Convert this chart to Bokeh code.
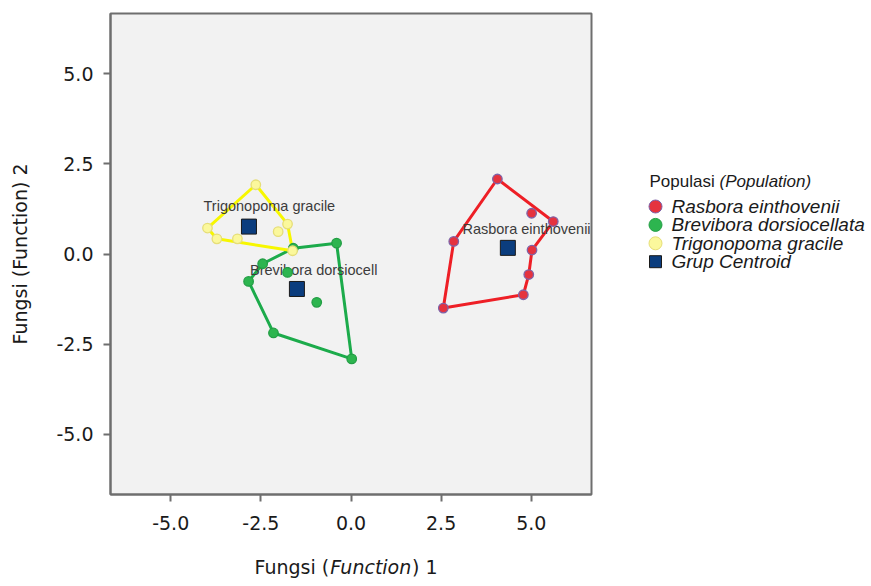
from bokeh.plotting import figure
from bokeh.layouts import row, column
from bokeh.models import Range1d, FixedTicker
from bokeh.core.properties import value
from bokeh.embed import file_html
from bokeh.resources import INLINE

# ---------------- data (discriminant scores) ----------------
rasbora_x = [4.06, 5.01, 5.61, 2.85, 5.02, 4.93, 4.78, 2.56]
rasbora_y = [2.08, 1.13, 0.90, 0.35, 0.11, -0.57, -1.13, -1.50]
rasbora_hull = [0, 2, 4, 5, 6, 7, 3, 0]

brevibora_x = [-0.40, -1.60, -2.45, -1.76, -2.84, -0.95, -2.15, 0.02]
brevibora_y = [0.30, 0.16, -0.27, -0.51, -0.76, -1.34, -2.19, -2.91]
brevibora_hull = [0, 7, 6, 4, 2, 1, 0]

trigonopoma_x = [-2.64, -1.76, -2.02, -3.98, -3.72, -3.15, -1.62]
trigonopoma_y = [1.92, 0.83, 0.62, 0.72, 0.42, 0.42, 0.09]
trigonopoma_hull = [0, 1, 6, 4, 3, 0]

centroid_x = [4.35, -1.50, -2.83]
centroid_y = [0.17, -0.97, 0.76]
centroid_names = ["Rasbora einthovenii", "Brevibora dorsiocell", "Trigonopoma gracile"]
centroid_label_x = [3.09, -2.80, -4.09]
centroid_label_y = [0.70, -0.43, 1.32]

tick_values = [-5.0, -2.5, 0.0, 2.5, 5.0]
tick_labels = ["-5.0", "-2.5", "0.0", "2.5", "5.0"]

legend_title = ["Populasi", "(Population)"]
legend_names = ["Rasbora einthovenii", "Brevibora dorsiocellata", "Trigonopoma gracile", "Grup Centroid"]
x_title_parts = ["Fungsi (", "Function", ") 1"]
y_title = "Fungsi (Function) 2"

# ---------------- styles ----------------
AX = "#6e6e6e"
TXT = "#1a1a1a"
RED_LINE, RED_FILL, RED_EDGE = "#ee1f26", "#e5333f", "#7f63a8"
GRN_LINE, GRN_FILL, GRN_EDGE = "#1cab4b", "#2db54f", "#239e45"
YEL_LINE, YEL_FILL, YEL_EDGE = "#f7f700", "#fbf89c", "#e6de78"
CEN_FILL, CEN_EDGE = "#0b3d7e", "#1a1a1a"

MAIN_W = 636
FRAME = 481

p = figure(frame_width=FRAME, frame_height=FRAME,
           x_range=Range1d(-6.67, 6.67), y_range=Range1d(-6.67, 6.67),
           min_border_left=110, min_border_right=MAIN_W - 110 - FRAME,
           min_border_top=13, min_border_bottom=51,
           toolbar_location=None, output_backend="svg",
           background_fill_color="#f2f2f2", border_fill_color="white")
p.grid.visible = False
p.outline_line_color = AX
p.outline_line_width = 2

for ax in (p.xaxis[0], p.yaxis[0]):
    ax.ticker = FixedTicker(ticks=tick_values)
    ax.major_label_overrides = {v: s for v, s in zip(tick_values, tick_labels)}
    ax.minor_tick_line_color = None
    ax.major_tick_in = 0
    ax.major_tick_out = 7
    ax.major_tick_line_color = AX
    ax.major_tick_line_width = 2
    ax.axis_line_color = AX
    ax.axis_line_width = 2
    ax.major_label_text_font = "DejaVu Sans"
    ax.major_label_text_font_size = "19px"
    ax.major_label_text_color = TXT
p.xaxis.major_label_standoff = 14
p.yaxis.major_label_standoff = 10
p.yaxis.axis_label = y_title
p.yaxis.axis_label_text_font = "DejaVu Sans"
p.yaxis.axis_label_text_font_size = "19px"
p.yaxis.axis_label_text_font_style = "normal"
p.yaxis.axis_label_text_color = TXT
p.yaxis.axis_label_standoff = 22

groups = [
    (rasbora_x, rasbora_y, rasbora_hull, RED_LINE, RED_FILL, RED_EDGE),
    (brevibora_x, brevibora_y, brevibora_hull, GRN_LINE, GRN_FILL, GRN_EDGE),
    (trigonopoma_x, trigonopoma_y, trigonopoma_hull, YEL_LINE, YEL_FILL, YEL_EDGE),
]
for xs, ys, hull, lc, fc, ec in groups:
    p.line([xs[i] for i in hull], [ys[i] for i in hull], line_color=lc, line_width=3)

p.text(centroid_label_x, centroid_label_y, text=centroid_names,
       text_font=value("Liberation Sans"), text_font_size="14.5px", text_color="#3c3c3c",
       text_baseline="middle", text_align="left")

for xs, ys, hull, lc, fc, ec in groups:
    p.scatter(xs, ys, size=9.5, marker="circle", fill_color=fc, line_color=ec, line_width=1.3)

p.scatter(centroid_x, centroid_y, size=15, marker="square",
          fill_color=CEN_FILL, line_color=CEN_EDGE, line_width=1)

# ---------------- x-axis title strip (mixed regular / italic) ----------------
# this strip's frame is aligned with the main frame (left edge at page x = 110)
XT_H = 39
xt = figure(frame_width=FRAME, frame_height=XT_H,
            x_range=Range1d(0, FRAME), y_range=Range1d(XT_H, 0),
            min_border=0, min_border_left=0, min_border_right=0,
            min_border_top=0, min_border_bottom=0,
            toolbar_location=None, output_backend="svg",
            x_axis_location=None, y_axis_location=None,
            background_fill_color="white", border_fill_color="white")
xt.grid.visible = False
xt.outline_line_color = None
x_starts = [144, 144 + 75.7, 144 + 157.6]
x_styles = ["normal", "italic", "normal"]
for part, sx, st in zip(x_title_parts, x_starts, x_styles):
    xt.text([sx], [21], text=[part], text_font=value("DejaVu Sans"), text_font_size="19px",
            text_font_style=st, text_color=TXT, text_baseline="middle", text_align="left")

# ---------------- legend panel ----------------
LEG_W = 234
LEG_H = FRAME + 13 + 51 + XT_H
q = figure(frame_width=LEG_W, frame_height=LEG_H,
           x_range=Range1d(0, LEG_W), y_range=Range1d(LEG_H, 0),
           min_border=0, min_border_left=0, min_border_right=0,
           min_border_top=0, min_border_bottom=0,
           toolbar_location=None, output_backend="svg",
           x_axis_location=None, y_axis_location=None,
           background_fill_color="white", border_fill_color="white")
q.grid.visible = False
q.outline_line_color = None

q.text([13], [181], text=[legend_title[0]],
       text_font=value("Liberation Sans"), text_font_size="17px", text_color=TXT,
       text_baseline="middle", text_align="left", text_font_style="normal")
q.text([13 + 70], [181], text=[legend_title[1]],
       text_font=value("Liberation Sans"), text_font_size="17px", text_color=TXT,
       text_baseline="middle", text_align="left", text_font_style="italic")

leg_y = [206 + 18.4 * i for i in range(4)]
leg_marker = ["circle", "circle", "circle", "square"]
leg_fill = [RED_FILL, GRN_FILL, YEL_FILL, CEN_FILL]
leg_edge = [RED_EDGE, GRN_EDGE, YEL_EDGE, CEN_EDGE]
leg_size = [13, 13, 13, 12]
q.scatter([19] * 4, leg_y, marker=leg_marker, size=leg_size,
          fill_color=leg_fill, line_color=leg_edge, line_width=1)
q.text([35] * 4, leg_y, text=legend_names,
       text_font=value("Liberation Sans"), text_font_size="19px", text_color=TXT,
       text_baseline="middle", text_align="left", text_font_style="italic")

layout = row(column(p, xt), q)
open("out.html", "w").write(file_html(layout, INLINE))
